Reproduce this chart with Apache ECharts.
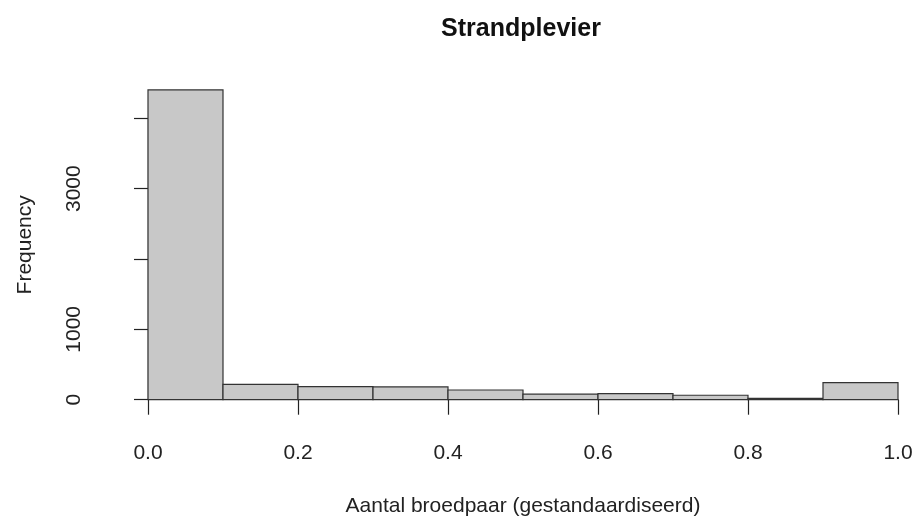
<!DOCTYPE html>
<html>
<head>
<meta charset="utf-8">
<script src="https://cdn.jsdelivr.net/npm/echarts@6/dist/echarts.min.js"></script>
<style>
  html, body { margin: 0; padding: 0; background: #fff; }
  #chart { width: 916px; height: 524px; }
</style>
</head>
<body>
<div id="chart"></div>
<script>
// Histogram bins (lower and upper edges) and counts per bin
const binStart = [0.0, 0.1, 0.2, 0.3, 0.4, 0.5, 0.6, 0.7, 0.8, 0.9];
const binEnd   = [0.1, 0.2, 0.3, 0.4, 0.5, 0.6, 0.7, 0.8, 0.9, 1.0];
const counts   = [4403, 219, 185, 182, 138, 79, 85, 63, 20, 242];

// Tick values that carry a label on the y axis (the others would overlap)
const yTicksLabelled = [0, 1000, 3000];

const FONT = '"Liberation Sans", Arial, Helvetica, sans-serif';
const INK = '#222';
const TEXT_SIZE = 21;

const chart = echarts.init(document.getElementById('chart'), null, { renderer: 'canvas' });

const histData = binStart.map((s, i) => [s, binEnd[i], counts[i]]);

chart.setOption({
  animation: false,
  backgroundColor: '#fff',
  title: {
    text: 'Strandplevier',
    left: 516,
    textAlign: 'center',
    top: 12,
    textStyle: { fontFamily: FONT, fontSize: 25, fontWeight: 'bold', color: '#111' }
  },
  grid: { left: 148, right: 18, top: 118.3, bottom: 124.3 },
  xAxis: {
    type: 'value',
    min: 0, max: 1, interval: 0.2,
    offset: 12,
    axisLine: { show: true, lineStyle: { color: INK, width: 1.2 } },
    axisTick: { show: true, length: 15, lineStyle: { color: INK, width: 1.2 } },
    axisLabel: {
      margin: 31,
      fontFamily: FONT, fontSize: TEXT_SIZE, color: INK,
      formatter: v => v.toFixed(1)
    },
    splitLine: { show: false },
    name: 'Aantal broedpaar (gestandaardiseerd)',
    nameLocation: 'middle',
    nameGap: 84,
    nameTextStyle: { fontFamily: FONT, fontSize: TEXT_SIZE, color: INK }
  },
  yAxis: {
    type: 'value',
    min: 0, max: 4000, interval: 1000,
    offset: 30,
    axisLine: { show: true, lineStyle: { color: INK, width: 1.2 } },
    axisTick: { show: true, length: 14, lineStyle: { color: INK, width: 1.2 } },
    axisLabel: {
      rotate: 90,
      margin: 33,
      fontFamily: FONT, fontSize: TEXT_SIZE, color: INK,
      formatter: v => (yTicksLabelled.includes(v) ? String(v) : '')
    },
    splitLine: { show: false }
  },
  series: [{
    type: 'custom',
    clip: false,
    data: histData,
    encode: { x: [0, 1], y: 2 },
    renderItem: function (params, api) {
      const p0 = api.coord([api.value(0), 0]);
      const p1 = api.coord([api.value(1), api.value(2)]);
      return {
        type: 'rect',
        shape: { x: p0[0], y: p1[1], width: p1[0] - p0[0], height: p0[1] - p1[1] },
        style: { fill: '#c8c8c8', stroke: '#333', lineWidth: 1.2 }
      };
    }
  }]
});

// y-axis title sits at the middle of the data range (0 .. highest bin)
const yMid = chart.convertToPixel({ yAxisIndex: 0 }, Math.max(...counts) / 2);
chart.setOption({
  graphic: [{
    type: 'text',
    x: 25,
    y: yMid,
    rotation: Math.PI / 2,
    style: {
      text: 'Frequency',
      fontFamily: FONT, fontSize: TEXT_SIZE, fill: INK,
      align: 'center', verticalAlign: 'middle'
    }
  }]
});
</script>
</body>
</html>
